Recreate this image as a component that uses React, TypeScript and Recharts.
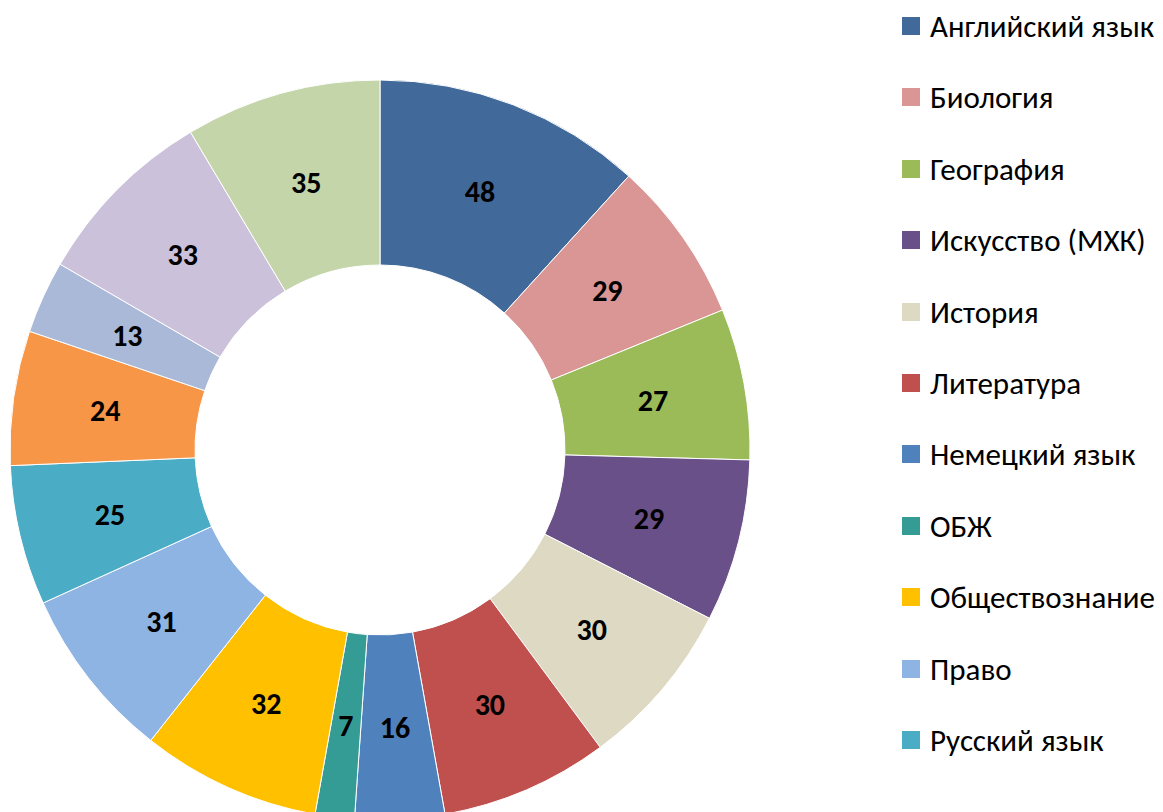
import { Cell, Pie, PieChart } from "recharts";

const subjects = [
	"Английский язык",
	"Биология",
	"География",
	"Искусство (МХК)",
	"История",
	"Литература",
	"Немецкий язык",
	"ОБЖ",
	"Обществознание",
	"Право",
	"Русский язык",
	"Технология",
	"Физика",
	"Физическая культура",
	"Химия",
];

const counts = [48, 29, 27, 29, 30, 30, 16, 7, 32, 31, 25, 24, 13, 33, 35];

const colors = [
	"#416A9B",
	"#D99694",
	"#9BBB59",
	"#6A5089",
	"#DDD9C3",
	"#C0504D",
	"#4F81BD",
	"#349C94",
	"#FFC000",
	"#8EB4E3",
	"#4BACC6",
	"#F79646",
	"#A9B9D7",
	"#CCC1DA",
	"#C4D5AA",
];

const data = subjects.map((name, i) => ({ name, value: counts[i] }));

const FONT = "Carlito, Lato, 'Open Sans', sans-serif";
const RADIAN = Math.PI / 180;
const H = 812;
const LEGEND_STEP = 71.4;
const legendTop = (i: number) => 26 + i * LEGEND_STEP - 18;

function renderLabel(props: any) {
	const { cx, cy, midAngle, innerRadius, outerRadius, value } = props;
	const r = (innerRadius + outerRadius) / 2;
	const x = cx + r * Math.cos(-midAngle * RADIAN);
	const y = cy + r * Math.sin(-midAngle * RADIAN);
	return (
		<text
			x={x}
			y={y}
			textAnchor="middle"
			dominantBaseline="central"
			fill="#000"
			fontFamily={FONT}
			fontWeight={700}
			fontSize={30}
		>
			{value}
		</text>
	);
}

export default function App() {
	// legend is clipped by the bottom edge, like in the original
	const legendItems = subjects
		.map((name, i) => ({ name, i }))
		.filter(({ i }) => legendTop(i) + 36 <= H);

	return (
		<div
			style={{
				position: "fixed",
				left: 0,
				top: 0,
				width: 1163,
				height: H,
				overflow: "hidden",
				background: "#fff",
			}}
		>
			<PieChart width={1163} height={H} margin={{ top: 0, right: 0, bottom: 0, left: 0 }}>
				<Pie
					data={data}
					dataKey="value"
					nameKey="name"
					cx={380}
					cy={450}
					innerRadius={185}
					outerRadius={370}
					startAngle={90}
					endAngle={-270}
					stroke="#fff"
					strokeWidth={1}
					label={renderLabel}
					labelLine={false}
					isAnimationActive={false}
				>
					{data.map((d, i) => (
						<Cell key={d.name} fill={colors[i]} />
					))}
				</Pie>
			</PieChart>
			{legendItems.map(({ name, i }) => (
				<div
					key={name}
					style={{
						position: "absolute",
						left: 902,
						top: legendTop(i),
						height: 36,
						display: "flex",
						alignItems: "center",
						whiteSpace: "nowrap",
						fontFamily: FONT,
						fontSize: 31,
						color: "#000",
					}}
				>
					<span
						style={{
							display: "inline-block",
							width: 18,
							height: 18,
							background: colors[i],
							marginRight: 10,
						}}
					/>
					{name}
				</div>
			))}
		</div>
	);
}
